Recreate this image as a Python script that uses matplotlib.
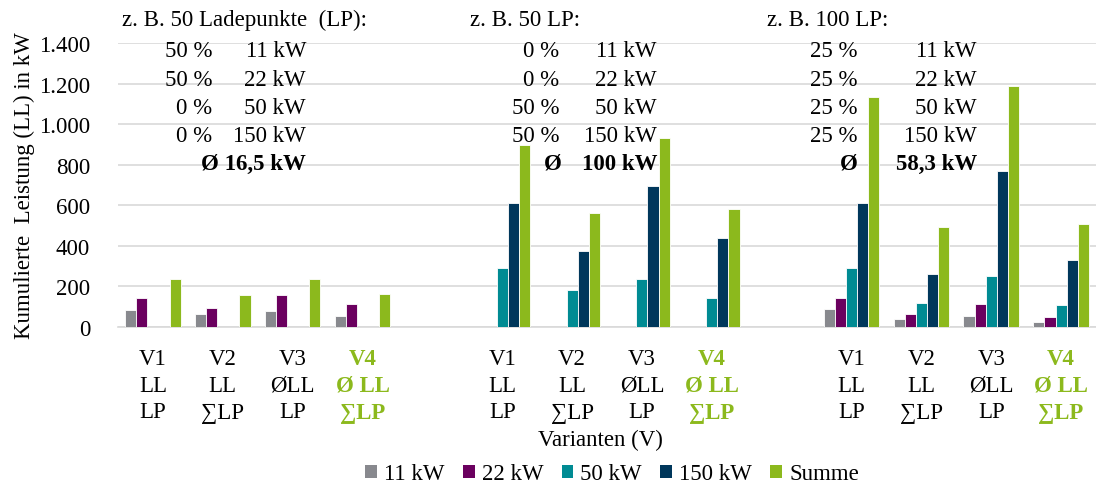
import numpy as np
import matplotlib.pyplot as plt
from matplotlib.patches import Patch

plt.rcParams['font.family'] = ['Liberation Serif', 'DejaVu Serif']

# Daten
series = ['11 kW', '22 kW', '50 kW', '150 kW', 'Summe']
colors = ['#88898e', '#6b005f', '#008b93', '#00375b', '#8cb91d']
s11 = [86, 63, 78, 55, 0, 0, 0, 0, 89, 41, 56, 25]
s22 = [142, 94, 157, 111, 0, 0, 0, 0, 143, 64, 112, 48]
s50 = [0, 0, 0, 0, 289, 181, 235, 141, 289, 118, 251, 110]
s150 = [0, 0, 0, 0, 611, 376, 696, 437, 611, 260, 769, 330]
summe = [236, 157, 236, 165, 898, 563, 931, 580, 1133, 494, 1189, 509]
variant_labels = ['V1\nLL\nLP', 'V2\nLL\n\u2211LP', 'V3\n\u00d8LL\nLP', 'V4\n\u00d8 LL\n\u2211LP'] * 3
slots = [0, 1, 2, 3, 5, 6, 7, 8, 10, 11, 12, 13]

titles = ['z. B. 50 Ladepunkte  (LP):', 'z. B. 50 LP:', 'z. B. 100 LP:']
shares = [['50 %', '50 %', '0 %', '0 %'],
          ['0 %', '0 %', '50 %', '50 %'],
          ['25 %', '25 %', '25 %', '25 %']]
powers = ['11 kW', '22 kW', '50 kW', '150 kW']
averages = ['16,5 kW', '100 kW', '58,3 kW']

FS = 16.5
W, H = 1096, 485
fig = plt.figure(figsize=(W / 100, H / 100), dpi=100)
ax = fig.add_axes([118 / W, 1 - 328 / H, (W - 118) / W, (328 - 44) / H])

x = np.array(slots, dtype=float)
step = 0.159
for i, (vals, c) in enumerate(zip([s11, s22, s50, s150, summe], colors)):
    ax.bar(x + (i - 2) * step, vals, width=step, color=c, edgecolor='white', linewidth=0.6, zorder=3)

ax.set_xlim(-0.5, 13.5)
ax.set_ylim(0, 1400)
ax.set_yticks(np.arange(0, 1401, 200))
ax.set_yticklabels([f'{v:,}'.replace(',', '.') for v in range(0, 1401, 200)], fontsize=FS)
ax.grid(axis='y', color='#d9d9d9', linewidth=1.2, zorder=0)
ax.tick_params(axis='both', length=0)
ax.tick_params(axis='y', pad=20)
for s in ['left', 'right', 'top']:
    ax.spines[s].set_visible(False)
ax.spines['bottom'].set_color('#d9d9d9')
ax.spines['bottom'].set_linewidth(1.2)

ax.set_xticks(x)
ax.set_xticklabels(variant_labels, fontsize=FS, linespacing=1.36)
ax.tick_params(axis='x', pad=15)
for j, t in enumerate(ax.get_xticklabels()):
    if j % 4 == 3:
        t.set_color('#8cb91d')
        t.set_fontweight('bold')

ax.set_ylabel('Kumulierte  Leistung (LL) in kW', fontsize=FS)
ax.yaxis.set_label_coords(-0.085, 0.5)
fig.text(600 / W, 1 - 440 / H, 'Varianten (V)', fontsize=FS, ha='center', va='center')

# Annotationen
def fx(px):
    return px / W

def fy(py):
    return 1 - py / H

title_x = [122, 470, 767]
pct_x = [212, 559, 857]
kw_x = [306, 657, 977]
oe_x = [None, 562, 858]
rows_y = [52, 80, 108, 136]
for g in range(3):
    fig.text(fx(title_x[g]), fy(20), titles[g], fontsize=FS, ha='left', va='center')
    for r in range(4):
        fig.text(fx(pct_x[g]), fy(rows_y[r]), shares[g][r], fontsize=FS, ha='right', va='center')
        fig.text(fx(kw_x[g]), fy(rows_y[r]), powers[r], fontsize=FS, ha='right', va='center')
    if oe_x[g] is None:
        fig.text(fx(kw_x[g]), fy(164), '\u00d8 ' + averages[g], fontsize=FS, ha='right', va='center',
                 fontweight='bold')
    else:
        fig.text(fx(oe_x[g]), fy(164), '\u00d8', fontsize=FS, ha='right', va='center', fontweight='bold')
        fig.text(fx(kw_x[g]), fy(164), averages[g], fontsize=FS, ha='right', va='center', fontweight='bold')

handles = [Patch(facecolor=c, edgecolor='none') for c in colors]
fig.legend(handles, series, loc='center', bbox_to_anchor=(612 / W, 1 - 475 / H), ncol=5,
           frameon=False, fontsize=FS, handlelength=0.52, handleheight=0.52, handletextpad=0.3,
           columnspacing=0.8)

fig.savefig('out.png', dpi=100)
